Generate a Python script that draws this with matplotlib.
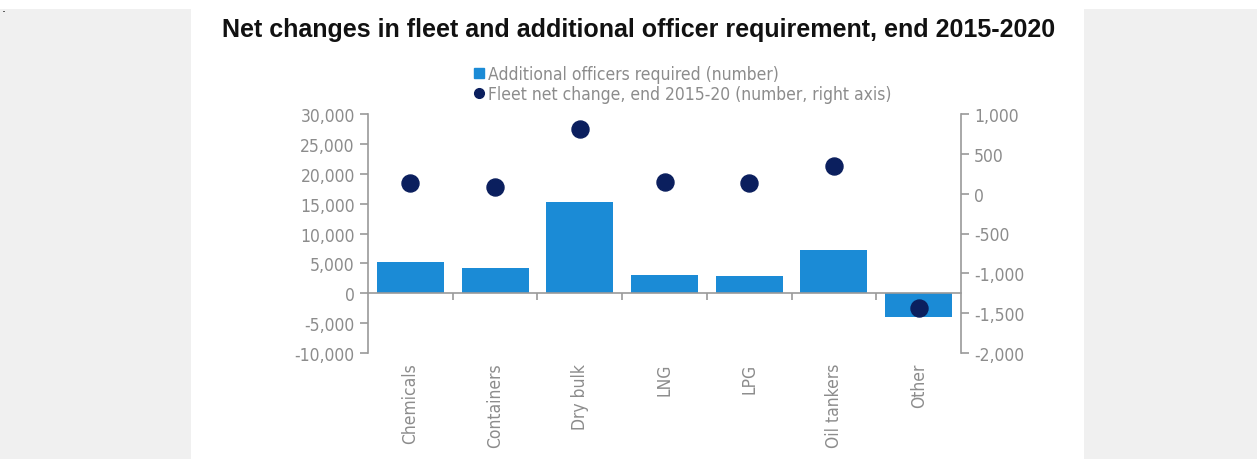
import matplotlib
matplotlib.use("Agg")
import matplotlib.pyplot as plt
from matplotlib import font_manager
from matplotlib.patches import Rectangle
from matplotlib.lines import Line2D
from matplotlib.ticker import FuncFormatter

# data
categories = ["Chemicals", "Containers", "Dry bulk", "LNG", "LPG", "Oil tankers", "Other"]
officers_required = [5200, 4300, 15300, 3000, 2950, 7200, -4000]
fleet_net_change = [140, 80, 810, 150, 140, 350, -1440]

bar_color = "#1b8bd6"
dot_color = "#0b1f5e"
grey_txt = "#8c8c8c"
axis_col = "#9a9a9a"


def small_font(size):
    # DejaVu Sans Condensed, close to the narrow face of the original
    return font_manager.FontProperties(family="DejaVu Sans", stretch="condensed", size=size)


fig = plt.figure(figsize=(12.57, 4.6), dpi=100)
fig.patch.set_facecolor("white")

# grey page margins left / right
fig.patches.append(Rectangle((0, 0), 191 / 1257, 450 / 460, transform=fig.transFigure,
                             facecolor="#f0f0f0", edgecolor="none", zorder=0))
fig.patches.append(Rectangle((1084 / 1257, 0), 1 - 1084 / 1257, 450 / 460, transform=fig.transFigure,
                             facecolor="#f0f0f0", edgecolor="none", zorder=0))
fig.text(0.001, 0.995, ".", fontsize=9, va="top", ha="left", color="black")

ax = fig.add_axes([368 / 1257, 1 - 354 / 460, (961 - 368) / 1257, (354 - 115) / 460])
ax2 = ax.twinx()

x = list(range(len(categories)))
ax.bar(x, officers_required, width=0.79, color=bar_color, zorder=2)
ax2.scatter(x, fleet_net_change, s=150, color=dot_color, zorder=3)

ax.set_xlim(-0.5, len(categories) - 0.5)
ax.set_ylim(-10000, 30000)
ax.set_yticks(range(-10000, 30001, 5000))
ax2.set_ylim(-2000, 1000)
ax2.set_yticks(range(-2000, 1001, 500))

fmt = FuncFormatter(lambda v, p: f"{int(v):,}")
ax.yaxis.set_major_formatter(fmt)
ax2.yaxis.set_major_formatter(fmt)

for a in (ax, ax2):
    a.set_facecolor("none")
    a.spines["top"].set_visible(False)
    for s in ("left", "right", "bottom"):
        a.spines[s].set_color(axis_col)
        a.spines[s].set_linewidth(1.2)
    a.tick_params(axis="y", colors=axis_col, labelcolor=grey_txt, length=6, width=1.2)
    for lbl in a.get_yticklabels():
        lbl.set_fontproperties(small_font(12.5))

ax.spines["right"].set_visible(False)
ax2.spines["left"].set_visible(False)
ax2.spines["bottom"].set_visible(False)

# zero line with ticks between categories
ax.spines["bottom"].set_position(("data", 0))
ax.set_xticks(x)
ax.set_xticklabels([])
ax.tick_params(axis="x", which="major", length=0)
ax.set_xticks([i + 0.5 for i in x[:-1]], minor=True)
ax.tick_params(axis="x", which="minor", length=5, width=1.2, colors=axis_col, direction="out")

for i, name in enumerate(categories):
    ax.annotate(name, xy=(i, -10000), xytext=(0, -7), textcoords="offset points",
                rotation=90, ha="center", va="top", color=grey_txt,
                fontproperties=small_font(12.5), annotation_clip=False)

fig.text(0.508, 0.935, "Net changes in fleet and additional officer requirement, end 2015-2020",
         ha="center", va="center", fontsize=18, fontweight="bold", color="#111111",
         family=["Liberation Sans", "DejaVu Sans"])

handles = [Line2D([], [], marker="s", linestyle="none", color=bar_color, markersize=7),
           Line2D([], [], marker="o", linestyle="none", color=dot_color, markersize=7)]
labels = ["Additional officers required (number)",
          "Fleet net change, end 2015-20 (number, right axis)"]
leg = fig.legend(handles, labels, loc="upper left", bbox_to_anchor=(462 / 1257, 1 - 57 / 460),
                 frameon=False, handletextpad=0.0, handlelength=1.0, labelspacing=0.12,
                 borderpad=0, prop=small_font(12.5))
for t in leg.get_texts():
    t.set_color(grey_txt)

fig.savefig("out.png", dpi=100)
